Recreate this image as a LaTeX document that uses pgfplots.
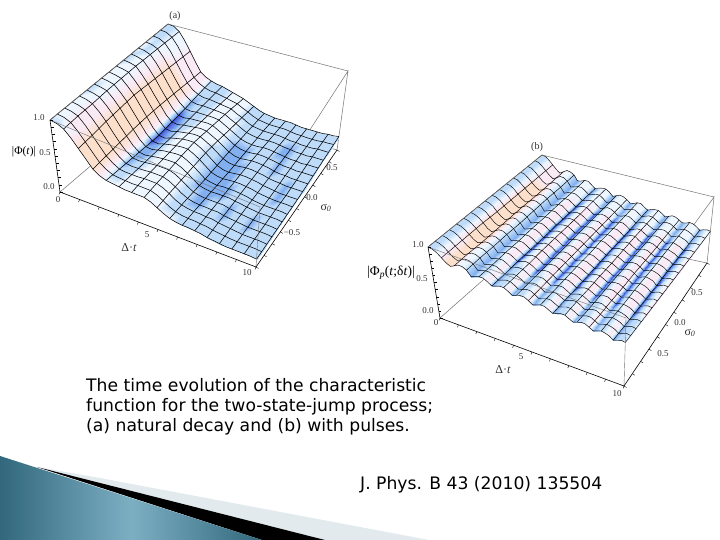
\documentclass[border=0pt]{standalone}
\usepackage{pgfplots}
\usepackage{pgfplotstable}
\usepackage{fontspec}
\pgfplotsset{compat=1.18}
\usetikzlibrary{calc}
\setmainfont{Liberation Serif}
\newfontfamily\capfont{DejaVu Sans}
\pgfplotstableread{
z c
100 3
99 3
94 2
84 2
72 1
60 1
49 1
44 1
41 3
39 3
38 3
36 3
34 2
32 2
30 2
27 2
24 3
21 3
19 3
18 3
17 3
17 3
17 3
17 3
16 3
15 3
15 3
15 3
15 3
15 3
16 3
16 3
17 3
100 3
99 3
94.5 2
85 2
73 1
61 1
50 1
44 1
40.5 3
38.5 3
38 3
36.5 3
35 2
33.5 2
32 2
28.5 2
25.5 3
22 3
19.5 3
18.5 3
17.5 3
17.5 3
17.5 3
17.5 3
16.5 3
15.5 3
15.5 3
15 3
15 3
15 3
16 3
16 3
16.5 3
100 3
99 3
95 2
86 2
74 1
62 1
51 1
44 1
40 3
38 3
38 3
37 3
36 2
35 2
34 2
30 2
27 3
23 3
20 3
19 3
18 3
18 3
18 3
18 3
17 3
16 3
16 3
15 3
15 3
15 3
16 3
16 3
16 3
100 2
99 3
95.5 2
86.5 1
75 0
63 0
52 0
44 1
39 4
37.5 3
38 3
37.5 3
37 2
36.5 2
35.5 2
31.5 2
28 2
24 3
20.5 3
19 3
18 3
18 3
18.5 3
18.5 3
17.5 3
16.5 4
16 4
15 3
15 3
14.5 3
15.5 3
15.5 3
15.5 3
100 2
99 3
96 2
87 1
76 0
64 0
53 0
44 1
38 4
37 3
38 3
38 3
38 2
38 2
37 2
33 2
29 2
25 3
21 3
19 3
18 3
18 3
19 3
19 3
18 3
17 4
16 4
15 3
15 3
14 3
15 3
15 3
15 3
100 3
99 2
96.5 2
87.5 1
77 0
65 0
54 0
44 1
37.5 5
36.5 4
38 3
38.5 3
39 2
39.5 2
38.5 2
34.5 2
30.5 2
26 3
21.5 4
19 4
18 4
18.5 3
19.5 3
19.5 3
18.5 3
17.5 3
16 4
15 3
15 3
14 3
14.5 3
14.5 3
14.5 3
100 3
99 2
97 2
88 1
78 0
66 0
55 0
44 1
37 5
36 4
38 3
39 3
40 2
41 2
40 2
36 2
32 2
27 3
22 4
19 4
18 4
19 3
20 3
20 3
19 3
18 3
16 4
15 3
15 3
14 3
14 3
14 3
14 3
100 2
99 2
97 2
88.5 1
79 0
67 0
55.5 0
44 1
36.5 5
35.5 4
38 3
39.5 2
41 2
42 2
41.5 2
37.5 2
33 3
27.5 3
22 4
19 4
18 4
19 4
20 3
20 3
19 3
18 3
16 3
15 3
14.5 3
13.5 4
13.5 3
13.5 3
13.5 3
100 2
99 2
97 2
89 1
80 0
68 0
56 0
44 1
36 5
35 4
38 3
40 2
42 2
43 2
43 2
39 2
34 3
28 3
22 4
19 4
18 4
19 4
20 3
20 3
19 3
18 3
16 3
15 3
14 3
13 4
13 3
13 3
13 3
100 2
99 2
97 2
89 1
79.5 0
67.5 0
56 0
44.5 1
37 5
36 4
38.5 3
40.5 2
42 2
43 2
43 2
39 2
34 3
28 3
22 4
19.5 4
18.5 4
19.5 4
20 3
20 3
19 3
18 3
16 3
15 3
14 3
13.5 4
13.5 3
13.5 3
13 3
100 3
99 2
97 2
89 1
79 0
67 0
56 0
45 1
38 4
37 4
39 3
41 2
42 2
43 2
43 2
39 2
34 2
28 3
22 4
20 4
19 4
20 4
20 4
20 3
19 3
18 3
16 3
15 3
14 3
14 3
14 3
14 3
13 3
100 3
99 2
96.5 2
88.5 1
78.5 0
66.5 0
55.5 0
45.5 1
39 4
38 4
39.5 3
41 2
42 2
42.5 2
42.5 2
39 2
34 2
28 3
22.5 4
20.5 4
19.5 4
20 4
20 4
20 3
18.5 3
17.5 3
16 3
15 3
14 3
14 3
14 3
14 3
13 3
100 2
99 2
96 1
88 1
78 0
66 0
55 0
46 1
40 4
39 3
40 3
41 2
42 2
42 2
42 2
39 2
34 2
28 3
23 3
21 4
20 4
20 3
20 3
20 3
18 4
17 3
16 3
15 3
14 4
14 3
14 3
14 3
13 3
100 2
99 2
96 1
87.5 1
77 0
65.5 0
54.5 0
46.5 1
41 4
40 3
40.5 3
41 2
42 2
42 2
42 2
39 2
34 2
28 3
23.5 3
21.5 4
20.5 4
20.5 3
20 3
20 3
18 4
17 3
16 3
15 3
14 4
14 3
14 3
14 3
13 3
100 2
99 2
96 1
87 1
76 0
65 0
54 0
47 1
42 3
41 3
41 2
41 2
42 2
42 2
42 2
39 2
34 2
28 3
24 3
22 3
21 3
21 3
20 3
20 3
18 3
17 3
16 3
15 3
14 3
14 3
14 3
14 3
13 3
100 2
99 2
95.5 1
86.5 1
75.5 0
64.5 0
53.5 0
47 1
43 3
42 3
41.5 2
41 2
41.5 2
41.5 2
41.5 2
38.5 2
33.5 2
28 3
24 3
22 3
21 3
21 3
20 3
19.5 3
17.5 3
16.5 3
15.5 3
14.5 3
14 3
14 3
14 3
14 3
13 3
100 3
99 3
95 2
86 1
75 0
64 0
53 0
47 1
44 2
43 2
42 2
41 2
41 2
41 2
41 2
38 2
33 2
28 2
24 2
22 3
21 3
21 3
20 3
19 3
17 3
16 3
15 3
14 3
14 3
14 3
14 3
14 3
13 3
}\taba
\pgfplotstableread{
z c
100 3
99 3
95 2
90 1
85 1
81 1
84 1
87 2
86 2
83 3
76 4
77 3
79 2
79 2
75 2
71 4
73 3
74 2
74 2
71 2
66 4
68 3
70 2
69 2
66 2
62 4
63 3
65 2
65 2
61 2
58 4
60 3
61 2
61 2
58 2
54 4
56 3
58 2
57 2
54 2
51 4
52 3
54 2
53 2
50 2
46 4
48 3
49 2
48 2
100 3
99 3
95 2
90 1
85 1
81.5 1
84 1
87 2
86.5 2
83 3
76 4
77.5 3
79 2
79 2
75.5 2
71.5 4
73 3
74.5 2
74.5 2
71 2
66.5 4
68.5 3
70.5 2
69.5 2
66.5 2
62.5 4
63.5 3
65.5 2
65.5 2
62 2
58.5 4
60.5 3
62 2
61.5 2
58.5 2
55 4
57 3
58.5 2
58 2
55 2
51.5 4
53 3
55 2
53.5 2
51 2
47 4
49 3
50 2
49 2
100 3
99 3
95 2
90 1
85 1
82 1
84 1
87 2
87 2
83 3
76 4
78 3
79 2
79 2
76 2
72 4
73 3
75 2
75 2
71 2
67 4
69 3
71 2
70 2
67 2
63 4
64 3
66 2
66 2
63 2
59 4
61 3
63 2
62 2
59 2
56 4
58 3
59 2
59 2
56 2
52 4
54 3
56 2
54 2
52 2
48 4
50 3
51 2
50 2
100 3
99 3
95 2
90 0
85 0
82 0
84 0
87 1
87 2
83.5 3
76 4
78 3
79.5 2
79.5 1
76 1
72 5
73.5 3
75.5 2
75 1
71.5 1
67.5 5
69.5 3
71 2
70.5 1
67.5 1
63.5 5
64.5 3
66.5 2
66.5 1
63.5 1
59.5 5
61.5 3
63.5 2
63 1
59.5 1
56.5 5
58.5 3
60 2
59.5 1
56.5 1
53 5
55 3
57 2
55 1
53 1
49 5
51 3
52 2
51 1
100 3
99 3
95 2
90 0
85 0
82 0
84 0
87 1
87 2
84 3
76 4
78 3
80 2
80 1
76 1
72 5
74 3
76 2
75 1
72 1
68 5
70 3
71 2
71 1
68 1
64 5
65 3
67 2
67 1
64 1
60 5
62 3
64 2
64 1
60 1
57 5
59 3
61 2
60 1
57 1
54 5
56 3
58 2
56 1
54 1
50 5
52 3
53 2
52 1
100 3
99 3
95.5 2
90 0
85 0
82 0
84.5 0
87.5 1
87 2
84 3
76.5 4
78.5 3
80 2
80 1
76.5 1
72.5 5
74.5 3
76 2
75.5 1
72.5 1
68.5 5
70.5 3
71.5 2
71.5 1
68.5 1
64.5 5
66 3
68 2
67.5 1
64.5 1
61 5
63 3
64.5 2
64.5 1
61 1
58 5
60 3
61.5 2
61 1
58 1
55 5
56.5 3
58.5 2
57 1
55 1
51 5
52.5 3
54 2
53 1
100 3
99 3
96 2
90 0
85 0
82 0
85 0
88 1
87 2
84 3
77 4
79 3
80 2
80 1
77 1
73 5
75 3
76 2
76 1
73 1
69 5
71 3
72 2
72 1
69 1
65 5
67 3
69 2
68 1
65 1
62 5
64 3
65 2
65 1
62 1
59 5
61 3
62 2
62 1
59 1
56 5
57 3
59 2
58 1
56 1
52 5
53 3
55 2
54 1
100 3
99 3
96 2
90 0
85 0
82 0
85 0
88 1
87.5 2
84 3
77 4
79 3
80.5 2
80.5 1
77.5 1
73 5
75 3
76.5 2
76.5 1
73.5 1
69.5 5
71 3
72.5 2
72.5 1
69.5 1
65.5 5
67.5 3
69 2
68.5 1
65.5 1
62.5 5
64.5 3
66 2
65.5 1
62.5 1
59.5 5
61.5 3
63 2
63 1
60 1
56.5 5
58 3
60 2
59 1
57 1
52.5 5
54 3
56 2
55 1
100 3
99 3
96 2
90 0
85 0
82 0
85 0
88 1
88 2
84 3
77 4
79 3
81 2
81 1
78 1
73 5
75 3
77 2
77 1
74 1
70 5
71 3
73 2
73 1
70 1
66 5
68 3
69 2
69 1
66 1
63 5
65 3
67 2
66 1
63 1
60 5
62 3
64 2
64 1
61 1
57 5
59 3
61 2
60 1
58 1
53 5
55 3
57 2
56 1
100 3
99 3
96 2
90.5 0
85 0
82 0
85 0
88 1
88 2
84.5 3
77.5 4
79.5 3
81 2
81 1
78 1
73.5 5
75.5 3
77.5 2
77.5 1
74.5 1
70 5
71.5 3
73.5 2
73.5 1
70.5 1
66.5 5
68.5 3
70 2
69.5 1
66.5 1
63.5 5
65.5 3
67.5 2
67 1
64 1
61 5
63 3
64.5 2
64.5 1
61.5 1
58 5
60 3
62 2
61 1
58.5 1
54 5
56 3
58 2
57 1
100 3
99 3
96 2
91 0
85 0
82 0
85 0
88 1
88 2
85 3
78 4
80 3
81 2
81 1
78 1
74 5
76 3
78 2
78 1
75 1
70 5
72 3
74 2
74 1
71 1
67 5
69 3
71 2
70 1
67 1
64 5
66 3
68 2
68 1
65 1
62 5
64 3
65 2
65 1
62 1
59 5
61 3
63 2
62 1
59 1
55 5
57 3
59 2
58 1
100 3
99 3
96 2
91 0
85.5 0
82.5 0
85 0
88 1
88 2
85 3
78 4
80 3
81.5 2
81.5 1
78.5 1
74.5 5
76.5 3
78.5 2
78 1
75 1
70.5 5
72.5 3
74.5 2
74.5 1
71.5 1
67.5 5
69.5 3
71.5 2
71 1
68 1
64.5 5
66.5 3
68.5 2
68.5 1
65.5 1
62.5 5
64.5 3
66 2
66 1
63 1
60 5
62 3
63.5 2
62.5 1
60 1
56 5
58 3
60 2
59 1
100 3
99 3
96 2
91 0
86 0
83 0
85 0
88 1
88 2
85 3
78 4
80 3
82 2
82 1
79 1
75 5
77 3
79 2
78 1
75 1
71 5
73 3
75 2
75 1
72 1
68 5
70 3
72 2
72 1
69 1
65 5
67 3
69 2
69 1
66 1
63 5
65 3
67 2
67 1
64 1
61 5
63 3
64 2
63 1
61 1
57 5
59 3
61 2
60 1
100 3
99 3
96 2
91 1
86 0
83 0
85.5 1
88.5 2
88.5 2
85.5 3
78.5 4
80.5 3
82 3
82 2
79 1
75 4
77 3
79 3
78.5 2
75.5 1
71.5 4
73.5 3
75.5 3
75.5 2
72.5 1
68.5 4
70.5 3
72.5 3
72.5 2
69.5 1
66 4
68 3
70 3
70 2
67 1
63.5 4
65.5 3
67.5 3
67.5 2
64.5 1
61.5 4
63.5 3
65 3
64 2
62 1
58 4
60 3
62 3
61 2
100 3
99 3
96 2
91 1
86 0
83 0
86 1
89 2
89 2
86 3
79 4
81 3
82 3
82 2
79 1
75 4
77 3
79 3
79 2
76 1
72 4
74 3
76 3
76 2
73 1
69 4
71 3
73 3
73 2
70 1
67 4
69 3
71 3
71 2
68 1
64 4
66 3
68 3
68 2
65 1
62 4
64 3
66 3
65 2
63 1
59 4
61 3
63 3
62 2
100 3
99 3
96 2
91 1
86 0
83 0
86 1
89 2
89 2
86 3
79 4
81 3
82.5 3
82.5 2
79.5 1
75.5 4
77.5 3
79.5 3
79.5 2
76.5 1
72.5 4
74.5 3
76.5 3
76.5 2
73.5 1
69.5 4
71.5 3
73.5 3
73.5 2
70.5 1
67.5 4
69.5 3
71.5 3
71.5 2
68.5 1
65 4
67 3
69 3
69 2
66 1
63 4
65 3
67 3
66 2
64 1
60 4
62 3
64 3
63 2
100 3
99 3
96 2
91 1
86 0
83 0
86 1
89 2
89 2
86 3
79 4
81 3
83 3
83 2
80 1
76 4
78 3
80 3
80 2
77 1
73 4
75 3
77 3
77 2
74 1
70 4
72 3
74 3
74 2
71 1
68 4
70 3
72 3
72 2
69 1
66 4
68 3
70 3
70 2
67 1
64 4
66 3
68 3
67 2
65 1
61 4
63 3
65 3
64 2
}\tabb
% trilinear map of the plotted box: bottom corners then top corners
\def\ww{(\thisrow{z}/100)}
\def\ttri#1#2#3#4#5#6#7#8{((1-\ww)*((1-\vv)*((1-\uu)*#1+\uu*#2)+\vv*((1-\uu)*#3+\uu*#4))+\ww*((1-\vv)*((1-\uu)*#5+\uu*#6)+\vv*((1-\uu)*#7+\uu*#8)))}
\def\uu{(round(\pgfplotstablerow-33*floor((\pgfplotstablerow+0.5)/33))/32)}
\def\vv{(1-floor((\pgfplotstablerow+0.5)/33)/16)}
\pgfplotstablecreatecol[create col/expr={\ttri{60}{256}{168}{337}{50}{260}{168}{348}}]{px}{\taba}
\pgfplotstablecreatecol[create col/expr={\ttri{192}{267}{100}{150}{120}{207}{24}{71}}]{py}{\taba}
\def\uu{(round(\pgfplotstablerow-49*floor((\pgfplotstablerow+0.5)/49))/48)}
\def\vv{(1-floor((\pgfplotstablerow+0.5)/49)/16)}
\pgfplotstablecreatecol[create col/expr={\ttri{440}{624}{542}{707}{428}{626}{542}{714}}]{px}{\tabb}
\pgfplotstablecreatecol[create col/expr={\ttri{318}{386}{228}{263}{247}{318}{155}{197}}]{py}{\tabb}
% mesh lines: one pass over each column, then short coordinate streams
\newcommand\storecol[3]{\pgfplotstableforeachcolumnelement{#2}\of#1\as\cell{\expandafter\xdef\csname #3\pgfplotstablerow\endcsname{\cell}}}
\storecol\taba{px}{ax}
\storecol\taba{py}{ay}
\storecol\tabb{px}{bx}
\storecol\tabb{py}{by}
\newcommand\addpt[2]{\edef\idx{\the\numexpr #2\relax}\xdef\cur{\cur(\csname #1x\idx\endcsname,\csname #1y\idx\endcsname,0)}}
\newcommand\pushline[1]{\xdef\gridlines{\unexpanded\expandafter{\gridlines}\noexpand\addplot3[#1] coordinates {\cur};}}
\pgfplotsset{gridA/.style={black,line width=.55pt,no marks},gridB/.style={black,line width=.45pt,no marks}}
\newcommand\makeTlines[4]{%
 \foreach \ii in #3{\gdef\cur{}\foreach \jj in {0,...,16}{\addpt{#1}{\jj*#2+\ii}}\pushline{#4}}%
}
\newcommand\makeSlines[4]{%
 \foreach \jj in {0,...,16}{\gdef\cur{}\foreach \ii in #3{\addpt{#1}{\jj*#2+\ii}}\pushline{#4}}%
}
\gdef\gridlines{}
\makeSlines{a}{33}{{0,...,32}}{gridA}
\makeTlines{a}{33}{{0,2,...,32}}{gridA}
\global\let\linesA\gridlines
\gdef\gridlines{}
\makeSlines{b}{49}{{0,...,48}}{gridB}
\makeTlines{b}{49}{{0,3,...,48}}{gridB}
\global\let\linesB\gridlines
\definecolor{boxc}{gray}{0.45}
\definecolor{txt}{gray}{0.2}
\definecolor{tealD}{RGB}{50,104,124}
\definecolor{tealL}{RGB}{125,175,195}
\definecolor{wedge}{RGB}{226,234,238}
\begin{document}
\begin{tikzpicture}[x=1pt,y=-1pt]
\useasboundingbox (0,0) rectangle (720,540);
\fill[white] (0,0) rectangle (720,540);
\begin{axis}[at={(0,0)},anchor=north west,scale only axis,width=720pt,height=540pt,
  xmin=0,xmax=720,ymin=0,ymax=540,zmin=-1,zmax=1,y dir=reverse,view={0}{90},
  axis lines=none,clip=false,point meta min=0,point meta max=5,
  colormap={slide}{rgb255=(252,224,204) rgb255=(250,234,245) rgb255=(238,246,255) rgb255=(190,220,250) rgb255=(130,175,240) rgb255=(70,90,220)}]
% hidden box edges
\addplot3[boxc,line width=.5pt] coordinates {(60,192,0)(168,100,0)(168,24,0)};
\addplot3[boxc,line width=.5pt] coordinates {(168,100,0)(337,150,0)(348,71,0)(260,207,0)};
\addplot3[boxc,line width=.5pt] coordinates {(440,318,0)(542,228,0)(542,155,0)};
\addplot3[boxc,line width=.5pt] coordinates {(542,228,0)(707,263,0)(714,197,0)(626,318,0)};
% surfaces
\addplot3[surf,shader=interp,mesh/rows=17,mesh/cols=33,z buffer=none,point meta=\thisrow{c}] table[x=px,y=py,z expr=0]{\taba};
\linesA
\addplot3[surf,shader=interp,mesh/rows=17,mesh/cols=49,z buffer=none,point meta=\thisrow{c}] table[x=px,y=py,z expr=0]{\tabb};
\linesB
% front box edges
\addplot3[boxc,line width=.5pt] coordinates {(50,120,0)(168,24,0)(348,71,0)};
\addplot3[boxc,line width=.4pt] coordinates {(50,120,0)(260,207,0)(256,267,0)};
\addplot3[black,line width=.6pt] coordinates {(50,120,0)(60,192,0)(256,267,0)(337,150,0)};
\addplot3[boxc,line width=.5pt] coordinates {(428,247,0)(542,155,0)(714,197,0)};
\addplot3[boxc,line width=.4pt] coordinates {(428,247,0)(626,318,0)(624,386,0)};
\addplot3[black,line width=.6pt] coordinates {(428,247,0)(440,318,0)(624,386,0)(707,263,0)};
\end{axis}
% ticks
\foreach \p in {0,.1,...,1.01} {
  \draw[black,line width=.4pt] ($(60,192)!\p!(256,267)$) -- ++(-1,2.5);
  \draw[black,line width=.4pt] ($(256,267)!\p!(337,150)$) -- ++(2.5,1.5);
  \draw[black,line width=.4pt] ($(440,318)!\p!(624,386)$) -- ++(-1,2.5);
  \draw[black,line width=.4pt] ($(624,386)!\p!(707,263)$) -- ++(2.5,1.5);
  \draw[black,line width=.4pt] ($(50,120)!\p!(60,192)$) -- ++(2.5,0);
  \draw[black,line width=.4pt] ($(428,247)!\p!(440,318)$) -- ++(2.5,0);
}
% labels
\begin{scope}[every node/.style={text=txt,font=\fontsize{9}{10}\selectfont,inner sep=0pt}]
\node at (175,16) {\fontsize{10}{11}\selectfont (a)};
\node at (39,118) {1.0};
\node at (45,153) {0.5};
\node at (49,187) {0.0};
\node at (58,200) {0};
\node at (147,235) {5};
\node at (247,273) {10};
\node at (332,168) {0.5};
\node at (312,198) {0.0};
\node at (292,233) {−0.5};
\node at (129,248) {\fontsize{12}{13}\selectfont Δ·\textit{t}};
\node at (326,208) {\fontsize{12}{13}\selectfont σ\textsubscript{\textit{0}}};
\node[text=black] at (24,152) {\fontsize{11.5}{13}\selectfont |Φ(\textit{t})|};
\node at (537,147) {\fontsize{10}{11}\selectfont (b)};
\node at (418,245) {1.0};
\node at (422,279) {0.5};
\node at (428,311) {0.0};
\node at (436,323) {0};
\node at (521,357) {5};
\node at (617,394) {10};
\node at (663,354) {0.5};
\node at (680,323) {0.0};
\node at (697,293) {0.5};
\node at (503,370) {\fontsize{12}{13}\selectfont Δ·\textit{t}};
\node at (690,333) {\fontsize{12}{13}\selectfont σ\textsubscript{\textit{0}}};
\node[text=black] at (391,273) {\fontsize{13.5}{15}\selectfont |Φ\textsubscript{\textit{p}}(\textit{t};δ\textit{t})|};
\end{scope}
% caption
\begin{scope}[every node/.style={anchor=base west,inner sep=0pt,text=black,font=\capfont\fontsize{17.2}{20}\selectfont}]
\node at (86,391) {The time evolution of the characteristic};
\node at (86,411) {function for the two-state-jump process;};
\node at (86,431) {(a) natural decay and (b) with pulses.};
\node at (360,489) {J. Phys. B 43 (2010) 135504};
\end{scope}
% corner decoration
\fill[wedge] (37,467) -- (100,478) -- (429,540) -- (325,540) -- cycle;
\fill[black] (37,467) -- (325,540) -- (262,540) -- cycle;
\shade[left color=tealD,right color=tealD,middle color=tealL] (0,456) -- (262,540) -- (0,540) -- cycle;
\end{tikzpicture}
\end{document}
